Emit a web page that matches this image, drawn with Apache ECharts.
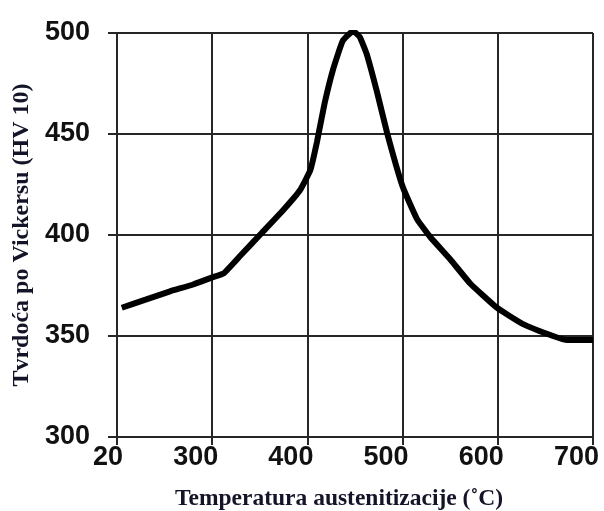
<!DOCTYPE html>
<html>
<head>
<meta charset="utf-8">
<script src="https://cdn.jsdelivr.net/npm/echarts@6/dist/echarts.min.js"></script>
<style>
  html, body { margin: 0; padding: 0; background: #fff; }
  #chart { width: 604px; height: 511px; }
</style>
</head>
<body>
<div id="chart"></div>
<script>
// hardness vs austenitizing temperature

var temperature = [205, 230, 255, 280, 300, 312, 330, 352, 374, 392, 403, 410, 418, 427, 437, 448, 455, 462, 473, 484, 500, 515, 529, 550, 571, 599, 626, 658, 673, 700];
var hardness = [364, 368, 372, 375.5, 379, 381, 390, 401, 412, 422, 432, 446, 465, 482, 496, 501, 498, 490, 471, 450, 424, 408, 399, 388, 376, 364, 356, 350, 348, 348];
var xTicks = [200, 300, 400, 500, 600, 700];
var xTickLabels = ['20', '300', '400', '500', '600', '700'];

var dom = document.getElementById('chart');
var myChart = echarts.init(dom);

var points = temperature.map(function (t, i) { return [t, hardness[i]]; });

var gridColor = '#262626';

var option = {
    animation: false,
    grid: {
        left: 117,
        right: 11,
        top: 33,
        bottom: 74,
        containLabel: false,
        outerBoundsMode: 'none'
    },
    xAxis: {
        type: 'value',
        min: 200,
        max: 700,
        interval: 100,
        name: 'Temperatura austenitizacije (˚C)',
        nameLocation: 'middle',
        nameGap: 50,
        nameTextStyle: {
            fontFamily: 'Liberation Serif',
            fontWeight: 'bold',
            fontSize: 23.5,
            color: '#141428',
            padding: [0, 32, 0, 0]
        },
        axisLine: { show: true, lineStyle: { color: gridColor, width: 2 } },
        axisTick: { show: true, inside: false, length: 8, lineStyle: { color: gridColor, width: 2 } },
        splitLine: { show: true, lineStyle: { color: gridColor, width: 2 } },
        axisLabel: {
            margin: 7,
            align: 'right',
            padding: [0, -6, 0, 0],
            fontFamily: 'Liberation Sans',
            fontWeight: 'bold',
            fontSize: 27,
            color: '#111',
            formatter: function (v) {
                var i = xTicks.indexOf(v);
                return i >= 0 ? xTickLabels[i] : '';
            }
        }
    },
    yAxis: {
        type: 'value',
        min: 300,
        max: 500,
        interval: 50,
        name: 'Tvrdoća po Vickersu (HV 10)',
        nameLocation: 'middle',
        nameGap: 81,
        nameTextStyle: {
            fontFamily: 'Liberation Serif',
            fontWeight: 'bold',
            fontSize: 24,
            color: '#141428'
        },
        axisLine: { show: true, lineStyle: { color: gridColor, width: 2 } },
        axisTick: { show: true, inside: false, length: 9, lineStyle: { color: gridColor, width: 2 } },
        splitLine: { show: true, lineStyle: { color: gridColor, width: 2 } },
        axisLabel: {
            margin: 27,
            padding: [0, 0, 10, 0],
            fontFamily: 'Liberation Sans',
            fontWeight: 'bold',
            fontSize: 27,
            color: '#111'
        }
    },
    series: [
        {
            type: 'line',
            data: points,
            smooth: 0.12,
            showSymbol: false,
            lineStyle: { color: '#000', width: 6 }
        }
    ]
};

if (option && typeof option === 'object') {
    myChart.setOption(option);
}
</script>
</body>
</html>
